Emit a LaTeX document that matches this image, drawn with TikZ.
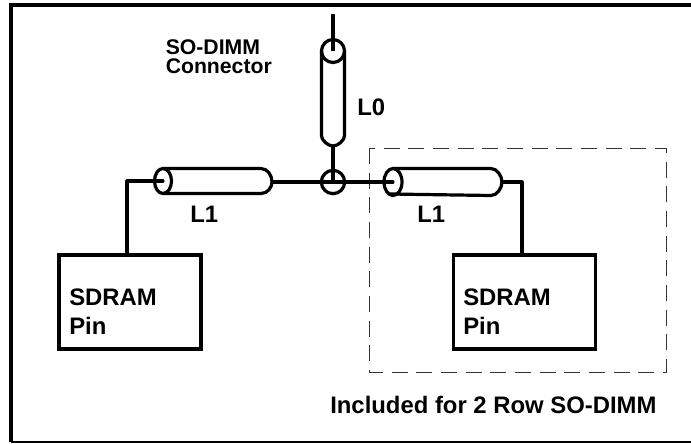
\documentclass[tikz,border=0pt]{standalone}
\usepackage{fontspec}
\setmainfont{Liberation Sans}
\tikzset{
  wire/.style={line width=2.4pt,line join=round},
  leadwire/.style={line width=2.3pt,line join=round,line cap=round},
  lbl/.style={inner sep=0pt,font=\fontsize{17.9pt}{21pt}\selectfont\bfseries,anchor=base west},
  smalllbl/.style={inner sep=0pt,font=\fontsize{15.9pt}{19pt}\selectfont\bfseries,anchor=base west},
  boxnode/.style={draw,line width=2.4pt,minimum width=106.5pt,minimum height=70.5pt,inner sep=0pt},
  tap/.style={circle,draw,line width=2.4pt,minimum size=17.5pt,inner sep=0pt},
  dashbox/.style={line width=.6pt,draw=black!80,dash pattern=on 12pt off 6.5pt}
}
\begin{document}
\begin{tikzpicture}[x=0.75pt,y=-0.75pt]
\useasboundingbox (0,0) rectangle (691,443);
\draw[line width=2.6pt] (11,442) -- (11,5) -- (691,5);
\draw[line width=1.2pt] (11,442) -- (691,442);
% dashed region
\draw[dashbox] (369,148) rectangle (666,372);
% boxes
\node[boxnode] (left) at (130,302) {};
\node[boxnode] (right) at (524.5,302) {};
\node[lbl] at (69,305) {SDRAM};
\node[lbl] at (69,334) {Pin};
\node[lbl] at (463,305) {SDRAM};
\node[lbl] at (463,334) {Pin};
% junction
\node[tap] (j) at (333,182) {};
\coordinate (top) at (333,14);
\coordinate (l0t) at (333,51);
\coordinate (l0b) at (333,146);
\coordinate (lt) at (163,181);
\coordinate (le) at (272,182);
\coordinate (rt) at (393,182);
\coordinate (re) at (502,182);
% L0
\draw[wire] (top) -- (l0t);
\draw[wire] (l0b) -- (j.center);
\draw[wire] (l0t) ellipse [x radius=11.5,y radius=11.5];
\draw[wire] (321.5,51) -- (321.5,136) .. controls (321.5,140) and (328,146) .. (l0b) .. controls (338,146) and (344.5,140) .. (344.5,136) -- (344.5,51);
% L1 left
\draw[leadwire] (left.north -| 127,0) -- (127,181) -- (lt);
\draw[wire] (lt) ellipse [x radius=8.5,y radius=12.5];
\draw[wire] (163,168.5) -- (261,168.5) .. controls (268,168.5) and (272,176) .. (le) .. controls (272,187) and (268,193.5) .. (261,193.5) -- (163,193.5);
\draw[wire] (le) -- (j.center);
% L1 right
\draw[leadwire] (j.center) -- (rt);
\draw[wire] (rt) ellipse [x radius=9,y radius=13.5];
\draw[wire] (393,168.5) -- (491,168.5) .. controls (497,168.5) and (502,176) .. (re) .. controls (502,188) and (497,195.5) .. (491,195.5) -- (390,194);
\draw[leadwire] (re) -- (522,182) -- (right.north -| 522,0);
% labels
\node[smalllbl] at (165.5,54) {SO-DIMM};
\node[smalllbl] at (165.5,73) {Connector};
\node[lbl] at (357,115) {L0};
\node[lbl] at (190,222) {L1};
\node[lbl] at (417,222) {L1};
\node[lbl] at (330,413) {Included for 2 Row SO-DIMM};
\end{tikzpicture}
\end{document}
